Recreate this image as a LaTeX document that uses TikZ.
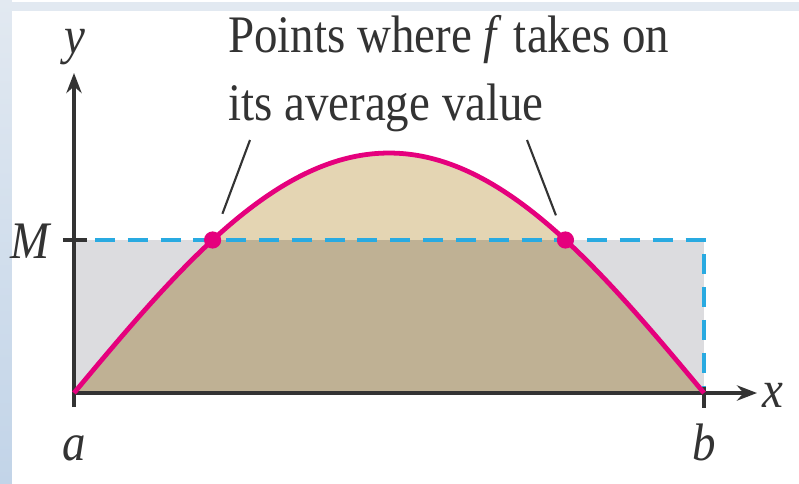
\documentclass[tikz,border=0pt]{standalone}
\usepackage{fontspec}
\setmainfont[FakeStretch=0.89]{Liberation Serif}
\usetikzlibrary{arrows.meta,calc}
\definecolor{curvec}{HTML}{E5007D}
\definecolor{mline}{HTML}{29AAE1}
\definecolor{tanlt}{HTML}{E4D5B3}
\definecolor{tandk}{HTML}{BFB194}
\definecolor{rectc}{HTML}{DCDCDF}
\definecolor{ink}{HTML}{333333}
\definecolor{edgetop}{HTML}{E2E9F1}
\definecolor{edgebot}{HTML}{C2D4E8}
\tikzset{
  axis/.style={line width=2.5pt, draw=ink},
  axarr/.style={axis, -{Stealth[length=0.5cm, width=0.38cm]}},
  curve/.style={line width=3.4pt, draw=curvec},
  mdash/.style={line width=2.3pt, draw=mline, dash pattern=on 0.5cm off 0.32cm},
  dot/.style={circle, fill=curvec, inner sep=0pt, minimum size=0.43cm},
  lead/.style={line width=1.5pt, draw=ink},
  lbl/.style={font=\fontsize{37.5}{48}\selectfont\itshape, inner sep=0pt, text=ink},
  note/.style={font=\fontsize{37.5}{48}\selectfont, inner sep=0pt, align=left, text=ink},
}
\begin{document}
\begin{tikzpicture}[x=0.025cm, y=0.025cm]
  % origin at a on the x-axis; 1 unit = 1 px of the figure
  \useasboundingbox (-74,-90) rectangle (725,393);
  \fill[white] (-74,-90) rectangle (725,393);
  \shade[top color=edgetop, bottom color=edgebot] (-74,-90) rectangle (-62,393);
  \fill[edgetop] (-62,382) rectangle (725,391);
  % areas
  \fill[rectc] (0,0) rectangle (630,153);
  \fill[tanlt] plot[domain=0:630, samples=120] (\x,{240*sin(\x*0.285714)}) -- cycle;
  \begin{scope}
    \clip (0,0) rectangle (630,153);
    \fill[tandk] plot[domain=0:630, samples=120] (\x,{240*sin(\x*0.285714)}) -- cycle;
  \end{scope}
  \draw[mdash] (21,153) -- (630,153) -- (630,0);
  % axes
  \draw[axarr] (0,-14) -- (0,320);
  \draw[axarr] (0,0) -- (683,0);
  \draw[axis] (-11,153) -- (13,153);
  \draw[axis] (630,6) -- (630,-15);
  \draw[curve] plot[domain=0:630, samples=120] (\x,{240*sin(\x*0.285714)});
  % points at the average value
  \node[dot] (lpt) at (138.6,153) {};
  \node[dot] (rpt) at (491.4,153) {};
  \node[note, anchor=base west] (avg) at (154,273) {Points where \textit{f} takes on\\its average value};
  \coordinate (ltop) at (176,253);
  \coordinate (rtop) at (453,253);
  \draw[lead, shorten >=0.7cm] (ltop) -- (lpt.center);
  \draw[lead, shorten >=0.66cm] (rtop) -- (rpt.center);
  % labels
  \node[lbl, anchor=base] (ylab) at (1,340) {y};
  \node[lbl, anchor=base] (xlab) at (699,-14) {x};
  \node[lbl, anchor=base] (alab) at (0,-67) {a};
  \node[lbl, anchor=base] (blab) at (630,-67) {b};
  \node[lbl, anchor=base] (mlab) at (-44,135) {M};
\end{tikzpicture}
\end{document}
